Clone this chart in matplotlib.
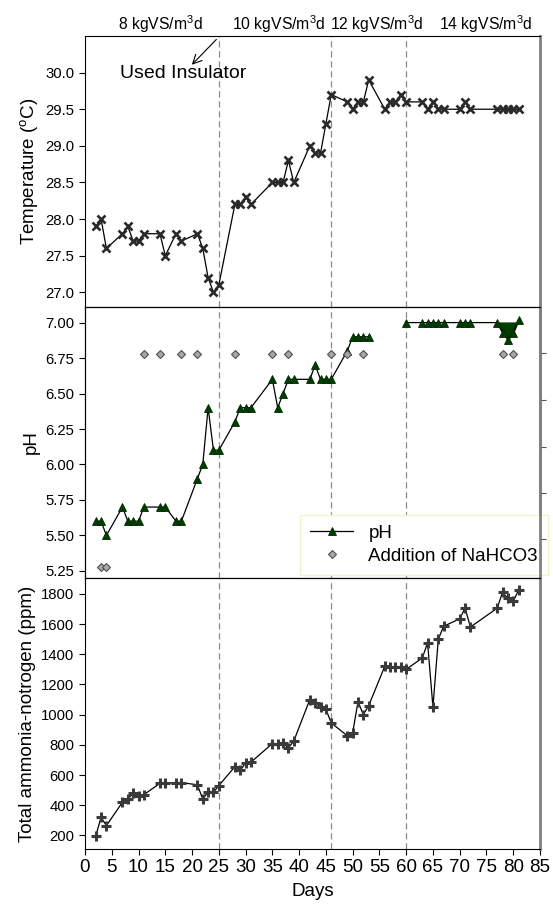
import numpy as np
import matplotlib
matplotlib.use("Agg")
import matplotlib.pyplot as plt
from matplotlib.transforms import blended_transform_factory

plt.rcParams['font.family'] = ['Liberation Sans', 'DejaVu Sans']
plt.rcParams['mathtext.default'] = 'regular'

# sampling days (shared by all three series)
days = [2, 3, 4, 7, 8, 9, 10, 11, 14, 15, 17, 18, 21, 22, 23, 24, 25,
        28, 29, 30, 31, 35, 36, 37, 38, 39, 42, 43, 44, 45, 46,
        49, 50, 51, 52, 53, 56, 57, 58, 59, 60, 63, 64, 65, 66, 67,
        70, 71, 72, 77, 78, 79, 80, 81]

temperature = [27.9, 28.0, 27.6, 27.8, 27.9, 27.7, 27.7, 27.8, 27.8, 27.5, 27.8, 27.7,
               27.8, 27.6, 27.2, 27.0, 27.1, 28.2, 28.2, 28.3, 28.2, 28.5, 28.5, 28.5,
               28.8, 28.5, 29.0, 28.9, 28.9, 29.3, 29.7, 29.6, 29.5, 29.6, 29.6, 29.9,
               29.5, 29.6, 29.6, 29.7, 29.6, 29.6, 29.5, 29.6, 29.5, 29.5, 29.5, 29.6,
               29.5, 29.5, 29.5, 29.5, 29.5, 29.5]

nan = np.nan
ph = [5.6, 5.6, 5.5, 5.7, 5.6, 5.6, 5.6, 5.7, 5.7, 5.7, 5.6, 5.6,
      5.9, 6.0, 6.4, 6.1, 6.1, 6.3, 6.4, 6.4, 6.4, 6.6, 6.4, 6.5,
      6.6, 6.6, 6.6, 6.7, 6.6, 6.6, 6.6, 6.8, 6.9, 6.9, 6.9, 6.9,
      nan, nan, nan, nan, 7.0, 7.0, 7.0, 7.0, 7.0, 7.0, 7.0, 7.0,
      7.0, 7.0, 6.93, 6.88, 6.93, 7.02]

ammonia = [195, 320, 265, 420, 440, 480, 460, 470, 545, 545, 550, 550,
           535, 440, 490, 485, 530, 655, 630, 680, 685, 808, 808, 812,
           780, 825, 1100, 1080, 1050, 1035, 945, 860, 880, 1085, 1000, 1060,
           1320, 1315, 1315, 1315, 1300, 1375, 1475, 1050, 1500, 1585, 1635, 1705,
           1580, 1705, 1810, 1770, 1750, 1825]

# NaHCO3 additions
nahco3_days = [3, 4, 11, 14, 18, 21, 28, 35, 38, 46, 49, 52, 78, 80]
nahco3_level = [5.28, 5.28, 6.78, 6.78, 6.78, 6.78, 6.78, 6.78, 6.78, 6.78, 6.78, 6.78, 6.78, 6.78]

# loading rate phases
phase_changes = [25, 46, 60]
phase_labels = ['8 kgVS/m$^3$d', '10 kgVS/m$^3$d', '12 kgVS/m$^3$d', '14 kgVS/m$^3$d']
phase_label_x = [14.1, 36.2, 54.5, 74.9]

fig, (ax1, ax2, ax3) = plt.subplots(3, 1, figsize=(5.53, 9.13), dpi=100, sharex=True)
fig.subplots_adjust(left=0.1537, right=0.9765, top=0.9606, bottom=0.0701, hspace=0)

tick_fs = 10.7
label_fs = 13.5

for ax in (ax1, ax2, ax3):
    for d in phase_changes:
        ax.axvline(d, color='#8a8a8a', lw=0.9, ls=(0, (5, 3)), zorder=1)
    ax.spines['right'].set_color('#808080')
    ax.spines['right'].set_linewidth(2)
    ax.tick_params(direction='out', length=4, width=0.8, labelsize=tick_fs, right=False, top=False)
    ax.set_xlim(0, 85)
    ax.set_xticks(np.arange(0, 86, 5))

# temperature
ax1.plot(days, temperature, color='black', lw=0.9, marker='x', ms=5.8, mew=1.9,
         mec='#2a2a2a', zorder=3)
ax1.set_ylim(26.8, 30.5)
ax1.set_yticks(np.arange(27.0, 30.01, 0.5))
ax1.set_yticklabels(['%.1f' % v for v in np.arange(27.0, 30.01, 0.5)])
ax1.set_ylabel('Temperature ($^{o}$C)', fontsize=label_fs)
ax1.annotate('', xy=(19.6, 30.08), xytext=(24.9, 30.48),
             arrowprops=dict(arrowstyle='->', lw=0.8, color='black', mutation_scale=16))
ax1.text(18.4, 29.99, 'Used Insulator', fontsize=14, ha='center', va='center')
trans = blended_transform_factory(ax1.transData, ax1.transAxes)
for x, lab in zip(phase_label_x, phase_labels):
    ax1.text(x, 1.004, lab, transform=trans, ha='center', va='bottom', fontsize=11.3)

# pH
ph_line, = ax2.plot(days, ph, color='black', lw=0.9, marker='^', ms=5.5,
                    mfc='#003d00', mec='#002800', mew=0.6, zorder=3, label='pH')
ax2.fill_between(days[-5:], ph[-5:], 7.0, color='#003d00', zorder=2)
dia, = ax2.plot(nahco3_days, nahco3_level, ls='none', marker='D', ms=4.5,
                mfc='#a8a8a8', mec='#505050', mew=0.8, zorder=4, label='Addition of NaHCO3')
ax2.set_ylim(5.2, 7.11)
ax2.set_yticks(np.arange(5.25, 7.01, 0.25))
ax2.set_yticklabels(['%.2f' % v for v in np.arange(5.25, 7.01, 0.25)])
ax2.set_ylabel('pH', fontsize=label_fs)
ax2r = ax2.twinx()
ax2r.set_ylim(5.2, 7.11)
ax2r.set_yticks([5.472, 5.797, 6.122, 6.454, 6.786])
ax2r.set_yticklabels([])
ax2r.tick_params(direction='out', length=4, width=0.8, color='#555555')
ax2r.spines['right'].set_color('#808080')
ax2r.spines['right'].set_linewidth(2)
leg = ax2.legend(handles=[ph_line, dia], loc='lower left', bbox_to_anchor=(0.4725, 0.011),
                 borderaxespad=0, fontsize=13.5, frameon=True, fancybox=False,
                 edgecolor='#f2f2cc', framealpha=1, handlelength=2.3, labelspacing=0.3,
                 borderpad=0.55)
leg.set_zorder(5)

# ammonia
ax3.plot(days, ammonia, color='black', lw=0.9, marker='+', ms=6.5, mew=2.2,
         mec='#3a3a3a', zorder=3)
ax3.set_ylim(110, 1905)
ax3.set_yticks(np.arange(200, 1801, 200))
ax3.set_ylabel('Total ammonia-notrogen (ppm)', fontsize=label_fs)
ax3.set_xlabel('Days', fontsize=label_fs, labelpad=5)
ax3.tick_params(axis='x', labelsize=13.5)

fig.savefig('out.png', dpi=100)
